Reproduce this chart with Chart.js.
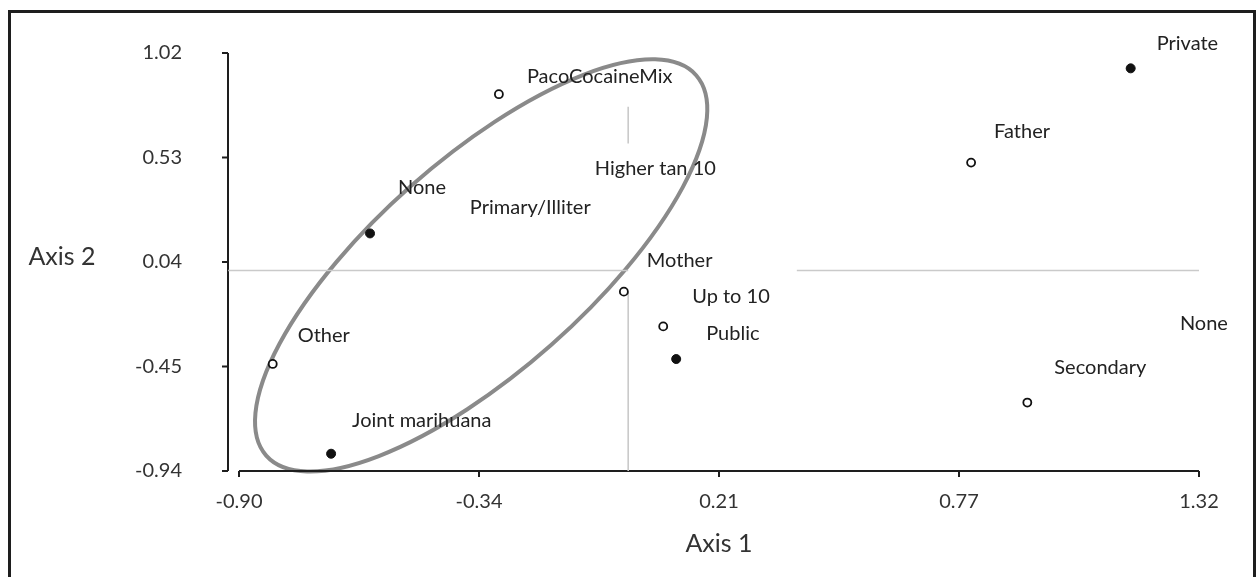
<!DOCTYPE html>
<html><head><meta charset="utf-8">
<script src="https://cdn.jsdelivr.net/npm/chart.js@4.4.1/dist/chart.umd.min.js"></script>
<style>
html,body{margin:0;padding:0;background:#fff;overflow:hidden;}
#wrap{position:relative;width:1256px;height:577px;}
#frame{position:absolute;left:8px;top:10px;width:1248px;height:600px;box-sizing:border-box;border:3px solid #1e1e1e;border-bottom:none;pointer-events:none;}
</style></head><body>
<div id="wrap"><canvas id="c"></canvas><div id="frame"></div></div>
<script>
// ---- data ----
const filledLabels = ['None', 'Private', 'Public', 'Joint marihuana'];
const filledX = [-0.597, 1.162, 0.111, -0.687];
const filledY = [0.174, 0.948, -0.415, -0.859];

const openLabels = ['PacoCocaineMix', 'Father', 'Mother', 'Up to 10', 'Other', 'Secondary'];
const openX = [-0.299, 0.793, -0.010, 0.081, -0.822, 0.923];
const openY = [0.827, 0.506, -0.099, -0.262, -0.438, -0.619];

const hiddenLabels = ['Primary/Illiter', 'Higher tan 10', 'None'];
const hiddenX = [-0.424, -0.135, 1.218];
const hiddenY = [0.155, 0.338, -0.390];

const xTicks = [-0.90, -0.345, 0.21, 0.765, 1.32];
const xTickLabels = ['-0.90', '-0.34', '0.21', '0.77', '1.32'];
const yTicks = [-0.94, -0.45, 0.04, 0.53, 1.02];
const yTickLabels = ['-0.94', '-0.45', '0.04', '0.53', '1.02'];

const hRefY = 0;
const hRefSeg1X = [-0.925, 0.0];
const hRefSeg2X = [0.39, 1.32];
const vRefX = 0;
const vRefSeg1Y = [-0.94, -0.10];
const vRefSeg2Y = [0.596, 0.768];

const ellipseCenter = [-0.340, 0.024];

// ---- styles (pixel offsets for labels) ----
const filledLabelOffsets = [[28, -46], [26, -25], [30, -25], [21, -33]];
const openLabelOffsets = [[28, -18], [23, -31], [23, -31], [29, -30], [25, -28], [27, -35]];
const hiddenLabelOffsets = [[25, -30], [25, -30], [25, -30]];

const FONT = 'Lato';
const toPts = (xs, ys) => xs.map((v, i) => ({x: v, y: ys[i]}));

const axesPlugin = {
  id: 'axesPlugin',
  beforeDatasetsDraw(chart) {
    const {ctx, scales: {x, y}} = chart;
    ctx.save();
    // ellipse
    const cx = x.getPixelForValue(ellipseCenter[0]);
    const cy = y.getPixelForValue(ellipseCenter[1]);
    ctx.beginPath();
    ctx.ellipse(cx, cy, 287, 106, -41.5 * Math.PI / 180, 0, Math.PI * 2);
    ctx.strokeStyle = '#8a8a8a';
    ctx.lineWidth = 4;
    ctx.stroke();
    // axes
    ctx.strokeStyle = '#1e1e1e';
    ctx.lineWidth = 2;
    const ax = x.left - 11;
    const top = y.getPixelForValue(yTicks[yTicks.length - 1]);
    const bot = y.getPixelForValue(yTicks[0]);
    ctx.beginPath();
    ctx.moveTo(ax, top); ctx.lineTo(ax, bot);
    yTicks.forEach(v => { const p = y.getPixelForValue(v); ctx.moveTo(ax - 6, p); ctx.lineTo(ax, p); });
    const l = x.getPixelForValue(xTicks[0]);
    const r = x.getPixelForValue(xTicks[xTicks.length - 1]);
    ctx.moveTo(l, bot); ctx.lineTo(r, bot);
    xTicks.forEach(v => { const p = x.getPixelForValue(v); ctx.moveTo(p, bot); ctx.lineTo(p, bot + 6); });
    ctx.stroke();
    // y axis title (horizontal)
    ctx.fillStyle = '#333';
    ctx.font = '25px ' + FONT;
    ctx.textAlign = 'center';
    ctx.textBaseline = 'middle';
    ctx.fillText('Axis 2', 62, y.getPixelForValue(0.04) - 5);
    ctx.restore();
  },
  afterDatasetsDraw(chart) {
    const {ctx} = chart;
    ctx.save();
    ctx.fillStyle = '#222';
    ctx.font = '20px ' + FONT;
    ctx.textAlign = 'left';
    ctx.textBaseline = 'middle';
    chart.data.datasets.forEach((ds, di) => {
      if (!ds.pointLabels) return;
      const meta = chart.getDatasetMeta(di);
      meta.data.forEach((el, i) => {
        const off = ds.labelOffsets[i];
        ctx.fillText(ds.pointLabels[i], el.x + off[0], el.y + off[1]);
      });
    });
    ctx.restore();
  }
};

function build() {
  new Chart(document.getElementById('c'), {
    type: 'scatter',
    data: {
      datasets: [
        {label: 'filled', data: toPts(filledX, filledY), pointLabels: filledLabels, labelOffsets: filledLabelOffsets,
         pointRadius: 4.5, backgroundColor: '#111', borderColor: '#111', borderWidth: 1},
        {label: 'open', data: toPts(openX, openY), pointLabels: openLabels, labelOffsets: openLabelOffsets,
         pointRadius: 4, backgroundColor: '#fff', borderColor: '#111', borderWidth: 1.8},
        {label: 'hidden', data: toPts(hiddenX, hiddenY), pointLabels: hiddenLabels, labelOffsets: hiddenLabelOffsets,
         pointRadius: 0, backgroundColor: 'rgba(0,0,0,0)', borderWidth: 0},
        {label: 'h1', data: hRefSeg1X.map(v => ({x: v, y: hRefY})), showLine: true, pointRadius: 0, borderColor: '#cacaca', borderWidth: 1.6, clip: false},
        {label: 'h2', data: hRefSeg2X.map(v => ({x: v, y: hRefY})), showLine: true, pointRadius: 0, borderColor: '#cacaca', borderWidth: 1.6, clip: false},
        {label: 'v1', data: vRefSeg1Y.map(v => ({x: vRefX, y: v})), showLine: true, pointRadius: 0, borderColor: '#cacaca', borderWidth: 1.6, clip: false},
        {label: 'v2', data: vRefSeg2Y.map(v => ({x: vRefX, y: v})), showLine: true, pointRadius: 0, borderColor: '#cacaca', borderWidth: 1.6, clip: false}
      ]
    },
    options: {
      responsive: true,
      maintainAspectRatio: false,
      animation: false,
      events: [],
      layout: {padding: {left: 0, right: 57, top: 53, bottom: 0}},
      plugins: {legend: {display: false}, tooltip: {enabled: false}},
      scales: {
        x: {
          type: 'linear', min: xTicks[0], max: xTicks[xTicks.length - 1],
          afterBuildTicks: s => { s.ticks = xTicks.map(v => ({value: v})); },
          afterFit: s => { s.height = 106; },
          ticks: {callback: (v, i) => xTickLabels[i], font: {family: FONT, size: 20}, color: '#333', padding: 19, maxRotation: 0, autoSkip: false},
          grid: {display: false, drawTicks: false},
          border: {display: false},
          title: {display: true, text: 'Axis 1', font: {family: FONT, size: 25}, color: '#333', padding: {top: 0, bottom: 18}}
        },
        y: {
          type: 'linear', min: yTicks[0], max: yTicks[yTicks.length - 1],
          afterBuildTicks: s => { s.ticks = yTicks.map(v => ({value: v})); },
          afterFit: s => { s.width = 239; },
          ticks: {callback: (v, i) => yTickLabels[i], font: {family: FONT, size: 20}, color: '#333', padding: 2, autoSkip: false},
          grid: {display: false, drawTicks: true, tickLength: 55},
          border: {display: false}
        }
      }
    },
    plugins: [axesPlugin]
  });
}
document.fonts.load('20px ' + FONT).then(build, build);
</script>
</body></html>
